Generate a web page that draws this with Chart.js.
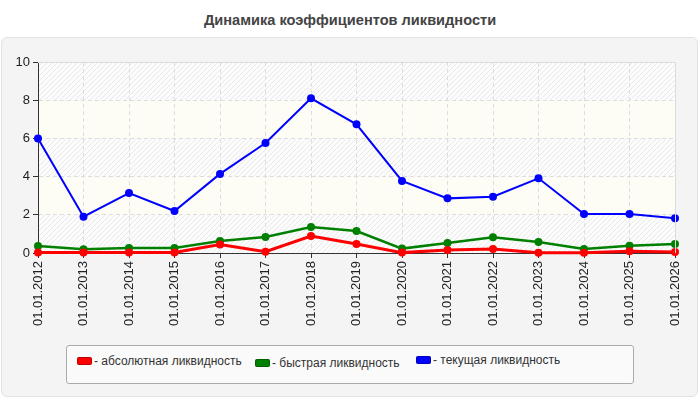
<!DOCTYPE html>
<html>
<head>
<meta charset="utf-8">
<script src="https://cdn.jsdelivr.net/npm/chart.js@4/dist/chart.umd.min.js"></script>
<style>
  body { margin: 0; background: #fff; font-family: "Liberation Sans", Arial, sans-serif; }
  #wrap { position: relative; width: 700px; height: 400px; }
  #panel { position: absolute; left: 1px; top: 37px; width: 695px; height: 358px;
           background: #f4f4f4; border: 1px solid #e2e2e2; border-radius: 6px; }
  #title { position: absolute; left: 0; top: 12px; width: 700px; text-align: center;
           font: bold 14.6px "Liberation Sans", Arial, sans-serif; color: #444; }
  #chart { position: absolute; left: 0; top: 0; }
  #legend { position: absolute; left: 66px; top: 345px; width: 566px; height: 37px;
            background: #fafafa; border: 1px solid #aaa; border-radius: 3px; }
  .item { position: absolute; font: 12px "Liberation Sans", Arial, sans-serif; color: #333; white-space: nowrap; }
  .sw { display: inline-block; width: 15px; height: 8px; border-radius: 2px; margin-right: 2px; vertical-align: 0px; }
</style>
</head>
<body>
<div id="wrap">
  <div id="panel"></div>
  <div id="title">Динамика коэффициентов ликвидности</div>
  <canvas id="chart" width="700" height="400"></canvas>
  <div id="legend"></div>
</div>
<script>
var labels = ["01.01.2012", "01.01.2013", "01.01.2014", "01.01.2015", "01.01.2016", "01.01.2017", "01.01.2018", "01.01.2019",
              "01.01.2020", "01.01.2021", "01.01.2022", "01.01.2023", "01.01.2024", "01.01.2025", "01.01.2026"];
var absolute = [0.02, 0.02, 0.03, 0.03, 0.45, 0.07, 0.89, 0.47, 0.02, 0.16, 0.21, 0.01, 0.01, 0.09, 0.05];
var quick = [0.37, 0.19, 0.26, 0.26, 0.63, 0.84, 1.36, 1.15, 0.23, 0.52, 0.82, 0.58, 0.21, 0.38, 0.47];
var current = [6.0, 1.9, 3.14, 2.2, 4.14, 5.76, 8.1, 6.74, 3.77, 2.86, 2.95, 3.91, 2.04, 2.04, 1.82];
var seriesNames = ["- абсолютная ликвидность", "- быстрая ликвидность", "- текущая ликвидность"];
var seriesColors = ["#ff0000", "#008000", "#0000ff"];
var yTicks = [0, 2, 4, 6, 8, 10];

// html legend
var legendPos = [[10, 8], [188, 10], [349, 7]];
var legend = document.getElementById("legend");
seriesNames.forEach(function (name, i) {
  var el = document.createElement("div");
  el.className = "item";
  el.style.left = legendPos[i][0] + "px";
  el.style.top = legendPos[i][1] + "px";
  el.innerHTML = '<span class="sw" style="background:' + seriesColors[i] + ';box-shadow:0 0 0 1px rgba(0,0,0,0.25) inset"></span>' + name;
  legend.appendChild(el);
});

// hatched background
function hatch(ctx) {
  var c = document.createElement("canvas");
  c.width = 5; c.height = 5;
  var g = c.getContext("2d");
  g.fillStyle = "#fcfcfc";
  g.fillRect(0, 0, 5, 5);
  g.strokeStyle = "#e9e9e9";
  g.lineWidth = 1;
  g.beginPath();
  g.moveTo(-1, 6); g.lineTo(6, -1);
  g.moveTo(-1, 1); g.lineTo(1, -1);
  g.moveTo(4, 6); g.lineTo(6, 4);
  g.stroke();
  return ctx.createPattern(c, "repeat");
}

var bandPlugin = {
  id: "bands",
  beforeDraw: function (chart) {
    var ctx = chart.ctx, a = chart.chartArea, y = chart.scales.y;
    var pat = hatch(ctx);
    ctx.save();
    for (var i = 0; i < yTicks.length - 1; i++) {
      var top = y.getPixelForValue(yTicks[i + 1]);
      var bot = y.getPixelForValue(yTicks[i]);
      ctx.fillStyle = (i % 2 === 0) ? pat : "#fdfdf6";
      ctx.fillRect(a.left, top, a.right - a.left, bot - top);
    }
    ctx.restore();
  },
  afterDraw: function (chart) {
    var ctx = chart.ctx, a = chart.chartArea;
    ctx.save();
    ctx.strokeStyle = "#dcdcdc";
    ctx.lineWidth = 1;
    ctx.beginPath();
    ctx.moveTo(a.left, a.top + 0.5); ctx.lineTo(a.right + 0.5, a.top + 0.5);
    ctx.lineTo(a.right + 0.5, a.bottom);
    ctx.stroke();
    ctx.restore();
  }
};

var widths = [3, 2.5, 2];
var data = [absolute, quick, current];
var datasets = data.map(function (d, i) {
  return {
    label: seriesNames[i],
    data: d,
    borderColor: seriesColors[i],
    backgroundColor: seriesColors[i],
    borderWidth: widths[i],
    pointRadius: 4,
    pointHoverRadius: 4,
    pointBorderWidth: 0,
    tension: 0,
    clip: false
  };
});

new Chart(document.getElementById("chart"), {
  type: "line",
  data: { labels: labels, datasets: datasets },
  plugins: [bandPlugin],
  options: {
    responsive: false,
    animation: false,
    layout: { padding: { left: 0, right: 25, top: 62, bottom: 0 } },
    plugins: { legend: { display: false }, title: { display: false }, tooltip: { enabled: false } },
    scales: {
      x: {
        offset: false,
        afterFit: function (s) { s.height = 147; },
        grid: { color: "#dddddd", tickColor: "#333", tickLength: 5, tickBorderDash: [] },
        border: { color: "#333", width: 1, dash: [4, 3] },
        ticks: { color: "#222", font: { size: 13, family: "Liberation Sans" }, minRotation: 90, maxRotation: 90, autoSkip: false, padding: 3 }
      },
      y: {
        min: 0, max: 10,
        afterFit: function (s) { s.width = 38; },
        afterBuildTicks: function (s) { s.ticks = yTicks.map(function (v) { return { value: v }; }); },
        grid: { color: "#dddddd", tickColor: "#333", tickLength: 5, tickBorderDash: [] },
        border: { color: "#333", width: 1, dash: [4, 3] },
        ticks: { color: "#222", font: { size: 13, family: "Liberation Sans" }, padding: 3 }
      }
    }
  }
});
</script>
</body>
</html>
